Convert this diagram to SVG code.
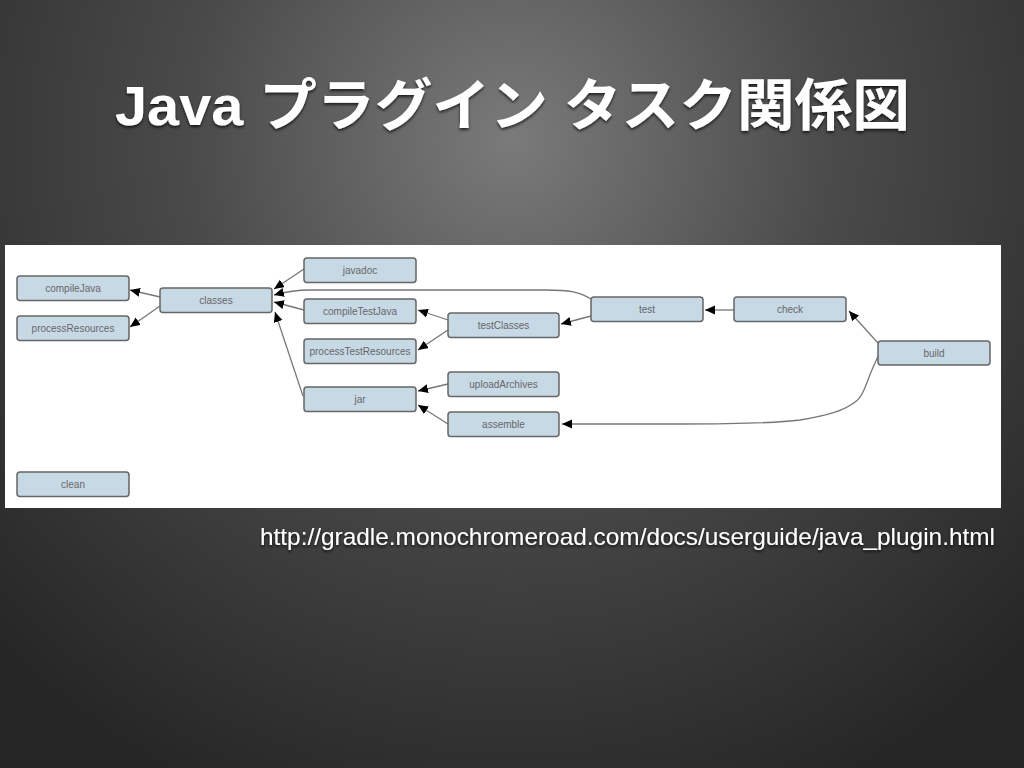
<svg xmlns="http://www.w3.org/2000/svg" width="1024" height="768" viewBox="0 0 1024 768">
<defs>
<radialGradient id="bg" cx="512" cy="140" r="720" gradientUnits="userSpaceOnUse">
<stop offset="0" stop-color="#7a7a7a"/>
<stop offset="0.45" stop-color="#4a4a4a"/>
<stop offset="1" stop-color="#262626"/>
</radialGradient>
<filter id="sh" x="-5%" y="-20%" width="110%" height="150%">
<feDropShadow dx="0" dy="2" stdDeviation="1.5" flood-color="#000" flood-opacity="0.7"/>
</filter>
<marker id="arr" markerUnits="userSpaceOnUse" markerWidth="11" markerHeight="10" refX="10" refY="4.5" orient="auto">
<path d="M0,0 L10,4.5 L0,9 z" fill="#000"/>
</marker>
<style>
.node rect{fill:#c8d9e6;stroke:#666;stroke-width:1.5}
.node text{font-family:"Liberation Sans",Arial,sans-serif;font-size:10px;fill:#666;text-anchor:middle}
.edge{fill:none;stroke:#777;stroke-width:1.3;marker-end:url(#arr)}
</style>
</defs>
<rect x="0" y="0" width="1024" height="768" fill="url(#bg)"/>
<text x="115" y="125" font-family="'Liberation Sans','Noto Sans CJK JP',sans-serif" font-size="56" font-weight="bold" fill="#fff" filter="url(#sh)" textLength="795" lengthAdjust="spacingAndGlyphs">Java プラグイン タスク関係図</text>
<rect x="5" y="245" width="996" height="263" fill="#fff"/>
<g id="connectors">
<path class="edge" d="M160,297 L130,290"/>
<path class="edge" d="M160,306 L130,327"/>
<path class="edge" d="M304,269 L274,289"/>
<path class="edge" d="M591,299 C580,292 570,290 545,290 L310,290 C295,290 285,292 274,295"/>
<path class="edge" d="M304,310 L274,302"/>
<path class="edge" d="M303,396 L275,312"/>
<path class="edge" d="M448,320 L418,310"/>
<path class="edge" d="M448,330 L418,350"/>
<path class="edge" d="M591,316 L561,324"/>
<path class="edge" d="M734,310 L705,310"/>
<path class="edge" d="M878,343 L849,311"/>
<path class="edge" d="M879,354 L871,372 C866,385 862,398 855,402 C845,410 830,415 800,420 C770,424 720,424 680,424 L562,424"/>
<path class="edge" d="M448,384 L418,391"/>
<path class="edge" d="M448,424 L418,405"/>
</g>
<g id="compileJava" class="node"><rect x="17" y="276" width="112" height="24.5" rx="3"/><text x="73" y="292">compileJava</text></g>
<g id="processResources" class="node"><rect x="17" y="316" width="112" height="24.5" rx="3"/><text x="73" y="332">processResources</text></g>
<g id="classes" class="node"><rect x="160" y="288" width="112" height="24.5" rx="3"/><text x="216" y="304">classes</text></g>
<g id="clean" class="node"><rect x="17" y="472" width="112" height="24.5" rx="3"/><text x="73" y="488">clean</text></g>
<g id="javadoc" class="node"><rect x="304" y="258" width="112" height="24.5" rx="3"/><text x="360" y="274">javadoc</text></g>
<g id="compileTestJava" class="node"><rect x="304" y="299" width="112" height="24.5" rx="3"/><text x="360" y="315">compileTestJava</text></g>
<g id="processTestResources" class="node"><rect x="304" y="339" width="112" height="24.5" rx="3"/><text x="360" y="355">processTestResources</text></g>
<g id="jar" class="node"><rect x="304" y="387" width="112" height="24.5" rx="3"/><text x="360" y="403">jar</text></g>
<g id="testClasses" class="node"><rect x="448" y="313" width="111" height="24.5" rx="3"/><text x="503.5" y="329">testClasses</text></g>
<g id="uploadArchives" class="node"><rect x="448" y="372" width="111" height="24.5" rx="3"/><text x="503.5" y="388">uploadArchives</text></g>
<g id="assemble" class="node"><rect x="448" y="412" width="111" height="24.5" rx="3"/><text x="503.5" y="428">assemble</text></g>
<g id="test" class="node"><rect x="591" y="297" width="112" height="24.5" rx="3"/><text x="647" y="313">test</text></g>
<g id="check" class="node"><rect x="734" y="297" width="112" height="24.5" rx="3"/><text x="790" y="313">check</text></g>
<g id="build" class="node"><rect x="878" y="341" width="112" height="24" rx="3"/><text x="934" y="357">build</text></g>
<text x="260" y="545" font-family="'Liberation Sans',Arial,sans-serif" font-size="24" fill="#fff" filter="url(#sh)" textLength="735" lengthAdjust="spacingAndGlyphs">http://gradle.monochromeroad.com/docs/userguide/java_plugin.html</text>
</svg>
